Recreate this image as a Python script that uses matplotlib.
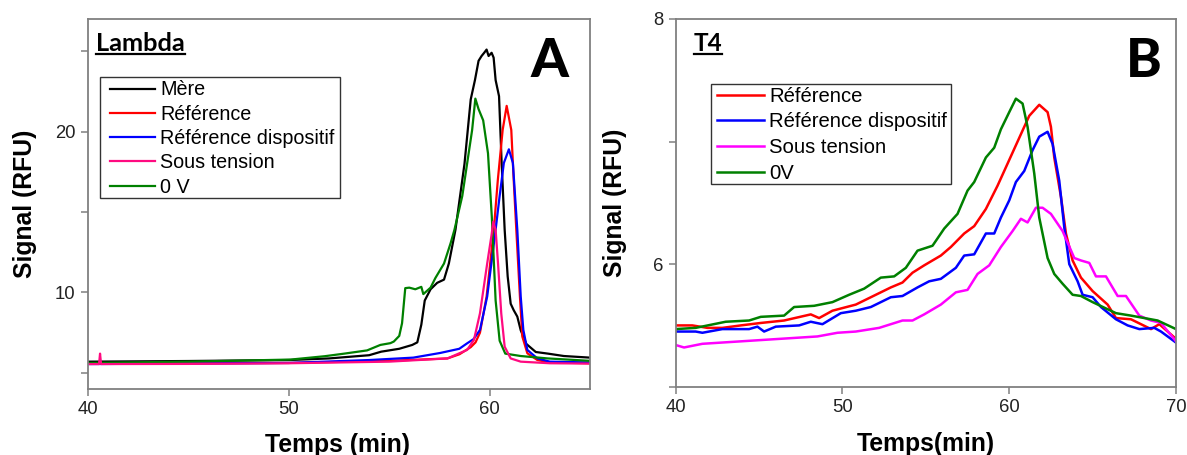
import matplotlib
matplotlib.use("Agg")
import matplotlib.pyplot as plt
from matplotlib.lines import Line2D
from matplotlib.patches import Rectangle

# ---------------- Panel A (Lambda) ----------------
mere_t = [40, 45, 50, 52, 54, 54.6, 55.5, 56.15, 56.4, 56.6, 56.77, 57.06, 57.39, 57.73, 57.97, 58.3,
          58.75, 59.06, 59.27, 59.45, 59.6, 59.73, 59.85, 59.95, 60.1, 60.2, 60.3, 60.47, 60.6, 60.75,
          60.9, 61.05, 61.2, 61.38, 61.55, 61.83, 62.3, 62.9, 63.7, 65]
mere_v = [5.70, 5.74, 5.80, 5.9, 6.1, 6.32, 6.5, 6.74, 6.9, 8.0, 9.5, 10.2, 10.6, 10.8, 11.8, 13.9,
          18.0, 22.0, 23.2, 24.4, 24.7, 24.9, 25.1, 24.7, 24.9, 24.6, 23.2, 22.2, 18.05, 13.9,
          11.0, 9.3, 8.9, 8.5, 7.65, 6.8, 6.3, 6.2, 6.05, 5.95]

ref_t = [40, 50, 55, 57.9, 58.5, 59.06, 59.3, 59.52, 59.85, 60.21, 60.41, 60.65, 60.85, 61.08, 61.2,
         61.33, 61.51, 61.63, 61.88, 62.38, 63, 65]
ref_v = [5.58, 5.62, 5.75, 5.9, 6.16, 6.6, 6.9, 7.5, 9.75, 13.9, 17.0, 20.1, 21.6, 20.1, 17.0,
         13.9, 9.75, 7.26, 6.22, 5.8, 5.65, 5.6]

refd_t = [40, 50, 54, 56.2, 57.54, 58.49, 58.87, 59.2, 59.52, 59.88, 60.3, 60.5, 60.71, 60.96, 61.16,
          61.38, 61.55, 61.68, 61.88, 62.38, 63, 65]
refd_v = [5.55, 5.62, 5.8, 5.95, 6.24, 6.5, 6.83, 7.1, 7.67, 9.75, 13.9, 16.0, 18.05, 18.9, 18.05,
          13.9, 9.75, 7.67, 6.43, 5.9, 5.7, 5.65]

sous_t = [40, 40.55, 40.6, 40.65, 45, 50, 55, 57.9, 58.88, 59.22, 59.52, 59.88, 60.1, 60.18, 60.3,
          60.42, 60.58, 60.75, 61.05, 61.55, 63, 65]
sous_v = [5.55, 5.55, 6.2, 5.55, 5.56, 5.6, 5.7, 5.9, 6.43, 7.05, 8.7, 11.8, 13.6, 14.4, 13.9,
          11.8, 8.7, 6.63, 5.9, 5.7, 5.6, 5.58]

zero_t = [40, 45, 50.1, 51.8, 52.77, 53.9, 54.56, 55.06, 55.23, 55.5, 55.64, 55.8, 56.0, 56.3, 56.6,
          56.7, 57.06, 57.3, 57.73, 58.06, 58.25, 58.64, 59.13, 59.29, 59.45, 59.68, 59.92, 60.11,
          60.3, 60.5, 60.78, 61.55, 62.9, 65]
zero_v = [5.62, 5.70, 5.83, 6.04, 6.2, 6.4, 6.74, 6.85, 6.95, 7.3, 8.09, 10.27, 10.3, 10.2, 10.35,
          9.9, 10.3, 10.9, 11.8, 13.07, 13.9, 16.0, 20.1, 22.05, 21.4, 20.7, 18.65, 14.7,
          9.5, 7.0, 6.2, 6.05, 5.9, 5.75]

# ---------------- Panel B (T4) ----------------
b_ref_t = [40, 41, 41.9, 42.8, 43.9, 45.1, 46.5, 48.1, 48.6, 49.4, 50.8, 52.0, 52.9, 53.6, 54.2, 54.9,
           55.9, 56.5, 57.3, 57.9, 58.6, 59.3, 60.0, 60.7, 61.2, 61.8, 62.3, 62.5, 62.7, 63.1, 63.4,
           63.8, 64.3, 65.0, 65.9, 66.4, 67.3, 68.5, 69.0, 70]
b_ref_v = [5.50, 5.50, 5.48, 5.48, 5.50, 5.52, 5.54, 5.59, 5.56, 5.62, 5.67, 5.75, 5.81, 5.85, 5.93, 5.99,
           6.07, 6.14, 6.25, 6.31, 6.45, 6.64, 6.85, 7.06, 7.21, 7.30, 7.24, 7.12, 6.87, 6.55, 6.25,
           6.03, 5.89, 5.78, 5.67, 5.56, 5.55, 5.47, 5.51, 5.39]

b_refd_t = [40, 41.2, 41.6, 42.8, 44.4, 44.9, 45.3, 46.0, 47.4, 48.1, 48.8, 49.9, 50.8, 51.7, 52.9, 53.6,
            54.5, 55.2, 55.9, 56.8, 57.3, 57.9, 58.6, 59.1, 59.5, 60.0, 60.4, 60.9, 61.4, 61.8, 62.3,
            62.6, 63.0, 63.3, 63.6, 64.1, 64.4, 65.0, 65.5, 66.4, 67.1, 67.8, 68.7, 69.1, 70]
b_refd_v = [5.45, 5.45, 5.44, 5.47, 5.47, 5.49, 5.45, 5.49, 5.50, 5.53, 5.51, 5.60, 5.62, 5.65, 5.73, 5.74,
            5.81, 5.86, 5.88, 5.97, 6.07, 6.08, 6.25, 6.25, 6.38, 6.52, 6.67, 6.76, 6.93, 7.04, 7.08,
            6.98, 6.68, 6.30, 6.00, 5.86, 5.75, 5.73, 5.65, 5.55, 5.50, 5.47, 5.48, 5.45, 5.36]

b_sous_t = [40, 40.5, 41.6, 43.9, 46.2, 48.5, 49.7, 50.8, 52.2, 53.6, 54.2, 54.9, 55.9, 56.8, 57.5, 58.1,
            58.8, 59.5, 60.2, 60.7, 61.1, 61.6, 62.0, 62.5, 63.2, 63.9, 64.3, 64.8, 65.2, 65.8, 66.5,
            67.0, 67.8, 68.5, 69.1, 70]
b_sous_v = [5.34, 5.32, 5.35, 5.37, 5.39, 5.41, 5.44, 5.45, 5.48, 5.54, 5.54, 5.59, 5.67, 5.77, 5.79, 5.92,
            5.99, 6.14, 6.27, 6.37, 6.34, 6.46, 6.46, 6.41, 6.27, 6.05, 6.03, 6.01, 5.90, 5.90, 5.74,
            5.74, 5.58, 5.54, 5.52, 5.37]

b_zero_t = [40, 41.2, 43.0, 44.4, 45.1, 46.5, 47.1, 48.3, 49.4, 50.4, 51.3, 52.3, 53.1, 53.8, 54.5, 55.4,
            56.1, 56.9, 57.5, 57.9, 58.6, 59.1, 59.5, 60.0, 60.4, 60.8, 61.1, 61.5, 61.8, 62.3, 62.7,
            63.2, 63.8, 64.3, 65.0, 66.4, 67.3, 68.9, 70]
b_zero_v = [5.47, 5.48, 5.53, 5.54, 5.57, 5.58, 5.65, 5.66, 5.69, 5.75, 5.80, 5.89, 5.90, 5.97, 6.11, 6.15,
            6.29, 6.41, 6.60, 6.67, 6.87, 6.95, 7.10, 7.24, 7.35, 7.31, 7.12, 6.74, 6.38, 6.05, 5.92,
            5.84, 5.75, 5.74, 5.69, 5.60, 5.58, 5.54, 5.47]

labels_A = ["Mère", "Référence", "Référence dispositif", "Sous tension", "0 V"]
labels_B = ["Référence", "Référence dispositif", "Sous tension", "0V"]

SANS = "Liberation Sans"
SPINE = "#808080"

fig = plt.figure(figsize=(11.87, 4.55), dpi=100)
axA = fig.add_axes([88/1187, 1-389/455, (590-88)/1187, (389-19)/455])
axB = fig.add_axes([675.7/1187, 1-386.7/455, (1176-675.7)/1187, (386.7-19)/455])

lw = 1.6
axA.plot(mere_t, mere_v, color="black", lw=lw, label=labels_A[0])
axA.plot(ref_t, ref_v, color="#ff0000", lw=lw, label=labels_A[1])
axA.plot(refd_t, refd_v, color="#0000ff", lw=lw, label=labels_A[2])
axA.plot(zero_t, zero_v, color="#008000", lw=lw, label=labels_A[4])
axA.plot(sous_t, sous_v, color="#ff0a80", lw=lw, label=labels_A[3])

axB.plot(b_ref_t, b_ref_v, color="#ff0000", lw=1.8, label=labels_B[0])
axB.plot(b_refd_t, b_refd_v, color="#0000ff", lw=1.8, label=labels_B[1])
axB.plot(b_sous_t, b_sous_v, color="#ff00ff", lw=1.8, label=labels_B[2])
axB.plot(b_zero_t, b_zero_v, color="#008000", lw=1.8, label=labels_B[3])

axA.set_xlim(40, 65)
axA.set_ylim(4, 27)
axA.set_xticks([40, 50, 60])
axA.set_yticks([10, 20])
axA.set_yticks([5, 15, 25], minor=True)

axB.set_xlim(40, 70)
axB.set_ylim(5, 8)
axB.set_xticks([40, 50, 60, 70])
axB.set_yticks([6, 8])
axB.set_yticks([5, 7], minor=True)

for ax in (axA, axB):
    for s in ax.spines.values():
        s.set_color(SPINE)
        s.set_linewidth(1.3)
    ax.tick_params(which="both", direction="out", length=5, width=1.1, color=SPINE,
                   labelsize=13.3, labelcolor="#222222", pad=4)
    ax.tick_params(axis="x", which="minor", bottom=False)
    for lab in ax.get_xticklabels() + ax.get_yticklabels():
        lab.set_fontfamily(SANS)

# legends (frame drawn separately to allow different horizontal / vertical padding)
hA, lA = axA.get_legend_handles_labels()
order = [0, 1, 2, 4, 3]
legA = axA.legend([hA[i] for i in order], [lA[i] for i in order], loc="upper left",
                  bbox_to_anchor=(0.0438, 0.834), prop={"family": SANS, "size": 14.2},
                  frameon=False, handlelength=2.3, handletextpad=0.25, labelspacing=0.27,
                  borderpad=0, borderaxespad=0)
legB = axB.legend(loc="upper left", bbox_to_anchor=(0.0834, 0.816),
                  prop={"family": SANS, "size": 14.6},
                  frameon=False, handlelength=2.3, handletextpad=0.25, labelspacing=0.33,
                  borderpad=0, borderaxespad=0)

# Axis labels
axA.set_xlabel("Temps (min)", fontfamily=SANS, fontweight="bold", fontsize=17.8, va="top")
axA.xaxis.set_label_coords(0.498, -0.118)
axA.set_ylabel("Signal (RFU)", fontfamily=SANS, fontweight="bold", fontsize=17.8, va="center")
axA.yaxis.set_label_coords(-0.125, 0.5)

axB.set_xlabel("Temps(min)", fontfamily=SANS, fontweight="bold", fontsize=17.8, va="top")
axB.xaxis.set_label_coords(0.50, -0.123)
axB.set_ylabel("Signal (RFU)", fontfamily=SANS, fontweight="bold", fontsize=17.8, va="center")
axB.yaxis.set_label_coords(-0.121, 0.5)

# Panel titles (underlined) and letters
tA = axA.text(0.016, 0.965, "Lambda", transform=axA.transAxes, fontfamily="Lato",
              fontweight="bold", fontsize=18.3, ha="left", va="top")
tB = axB.text(0.036, 0.965, "T4", transform=axB.transAxes, fontfamily="Lato",
              fontweight="bold", fontsize=17.5, ha="left", va="top")
axA.text(0.920, 0.885, "A", transform=axA.transAxes, fontfamily="Lato",
         fontweight="black", fontsize=39, ha="center", va="center")
axB.text(0.936, 0.885, "B", transform=axB.transAxes, fontfamily="Lato",
         fontweight="black", fontsize=39, ha="center", va="center")

fig.canvas.draw()
renderer = fig.canvas.get_renderer()
inv = fig.transFigure.inverted()
for t in (tA, tB):
    bb = t.get_window_extent(renderer)
    (x0, y0), (x1, y1) = inv.transform([(bb.x0, bb.y0 + 1), (bb.x1, bb.y0 + 1)])
    fig.add_artist(Line2D([x0, x1], [y0, y1], transform=fig.transFigure,
                          color="black", lw=1.6))

# legend frames: (left, right, top, bottom) padding in pixels
for ax, leg, (pl, pr, pt, pb) in ((axA, legA, (10, 5, 3, 1)), (axB, legB, (6, 4, 3, 1))):
    bb = leg.get_window_extent(renderer)
    inv_ax = ax.transAxes.inverted()
    (ax0, ay0), (ax1, ay1) = inv_ax.transform([(bb.x0 - pl, bb.y0 - pb), (bb.x1 + pr, bb.y1 + pt)])
    ax.add_patch(Rectangle((ax0, ay0), ax1 - ax0, ay1 - ay0, transform=ax.transAxes,
                           facecolor="white", edgecolor="#333333", lw=1.0, zorder=4.9,
                           clip_on=False))

fig.savefig("out.png", dpi=100)
